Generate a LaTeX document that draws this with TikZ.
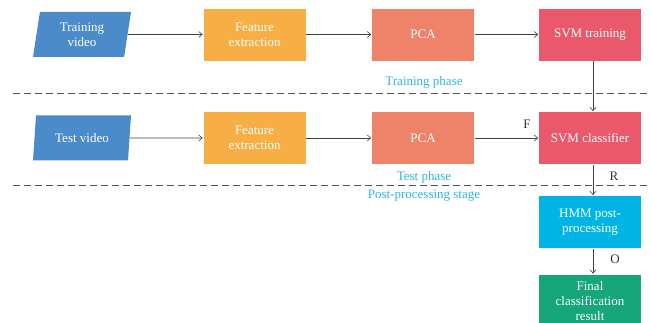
\documentclass[tikz,border=0pt]{standalone}
\usepackage{fontspec}
\setmainfont{Liberation Serif}
\usetikzlibrary{shapes.geometric,arrows.meta}
\definecolor{inblue}{HTML}{4B8BCA}
\definecolor{featorange}{HTML}{F7AE45}
\definecolor{pcasalmon}{HTML}{EF836A}
\definecolor{svmred}{HTML}{E9596B}
\definecolor{hmmcyan}{HTML}{00B5E5}
\definecolor{resgreen}{HTML}{17A67A}
\definecolor{phasecyan}{HTML}{2EB4E6}
\definecolor{linegray}{HTML}{404040}
\tikzset{
  procbox/.style={rectangle, draw=white, line width=0.6pt, minimum width=103pt, minimum height=53pt,
    text=white, align=center, font=\fontsize{13}{15}\selectfont, inner sep=1pt},
  inputbox/.style={trapezium, trapezium left angle=75, trapezium right angle=105,
    trapezium stretches body, fill=inblue, minimum width=98pt, minimum height=45pt,
    text=white, align=center, font=\fontsize{13}{15}\selectfont, inner sep=1pt},
  flow/.style={draw=linegray, line width=0.6pt, -{Straight Barb[length=3.5pt,width=6pt]}},
  divider/.style={draw=linegray!90, line width=0.6pt, dash pattern=on 7pt off 4pt},
  phase/.style={text=phasecyan, font=\fontsize{13}{15}\selectfont},
  sig/.style={text=linegray!80!black, font=\fontsize{13}{15}\selectfont}
}
\begin{document}
\begin{tikzpicture}[x=1pt,y=-1pt]
\useasboundingbox (0,0) rectangle (651,323);
\begin{scope}
\clip (0,0) rectangle (651,323);
% training row
\node[inputbox] (tv) at (82,34.5) {Training\\video};
\node[procbox, fill=featorange] (fe1) at (254.5,34.5) {Feature\\extraction};
\node[procbox, fill=pcasalmon] (pca1) at (423,34.5) {PCA};
\node[procbox, fill=svmred] (svmt) at (590,34.5) {SVM training};
% test row
\node[inputbox] (tsv) at (82,138) {Test video};
\node[procbox, fill=featorange] (fe2) at (254.5,138) {Feature\\extraction};
\node[procbox, fill=pcasalmon] (pca2) at (423,138) {PCA};
\node[procbox, fill=svmred] (svmc) at (590,138) {SVM classifier};
% post-processing column
\node[procbox, fill=hmmcyan] (hmm) at (590,222) {HMM post-\\processing};
\node[procbox, fill=resgreen, minimum height=54pt] (res) at (590,301) {Final\\classification\\result};
\end{scope}
% flow arrows
\draw[flow] (tv) -- (fe1);
\draw[flow] (fe1) -- (pca1);
\draw[flow] (pca1) -- (svmt);
\draw[flow] (tsv) -- (fe2);
\draw[flow] (fe2) -- (pca2);
\draw[flow] (pca2) -- (svmc);
\draw[flow] (svmt.south -| 593,0) -- (svmc.north -| 593,0);
\draw[flow] (svmc.south -| 593,0) -- (hmm.north -| 593,0);
\draw[flow] (hmm.south -| 593,0) -- (res.north -| 593,0);
% phase dividers
\coordinate (d1l) at (13,93);
\coordinate (d1r) at (651,93);
\coordinate (d2l) at (13,185);
\coordinate (d2r) at (651,185);
\draw[divider] (d1l) -- (d1r);
\draw[divider] (d2l) -- (d2r);
\node[phase] (trp) at (424,82) {Training phase};
\node[phase] (tsp) at (424,177) {Test phase};
\node[phase] (pps) at (424,196) {Post-processing stage};
% signal labels
\node[sig] (lf) at (527,124) {F};
\node[sig] (lr) at (614,176) {R};
\node[sig] (lo) at (615,259) {O};
\end{tikzpicture}
\end{document}
